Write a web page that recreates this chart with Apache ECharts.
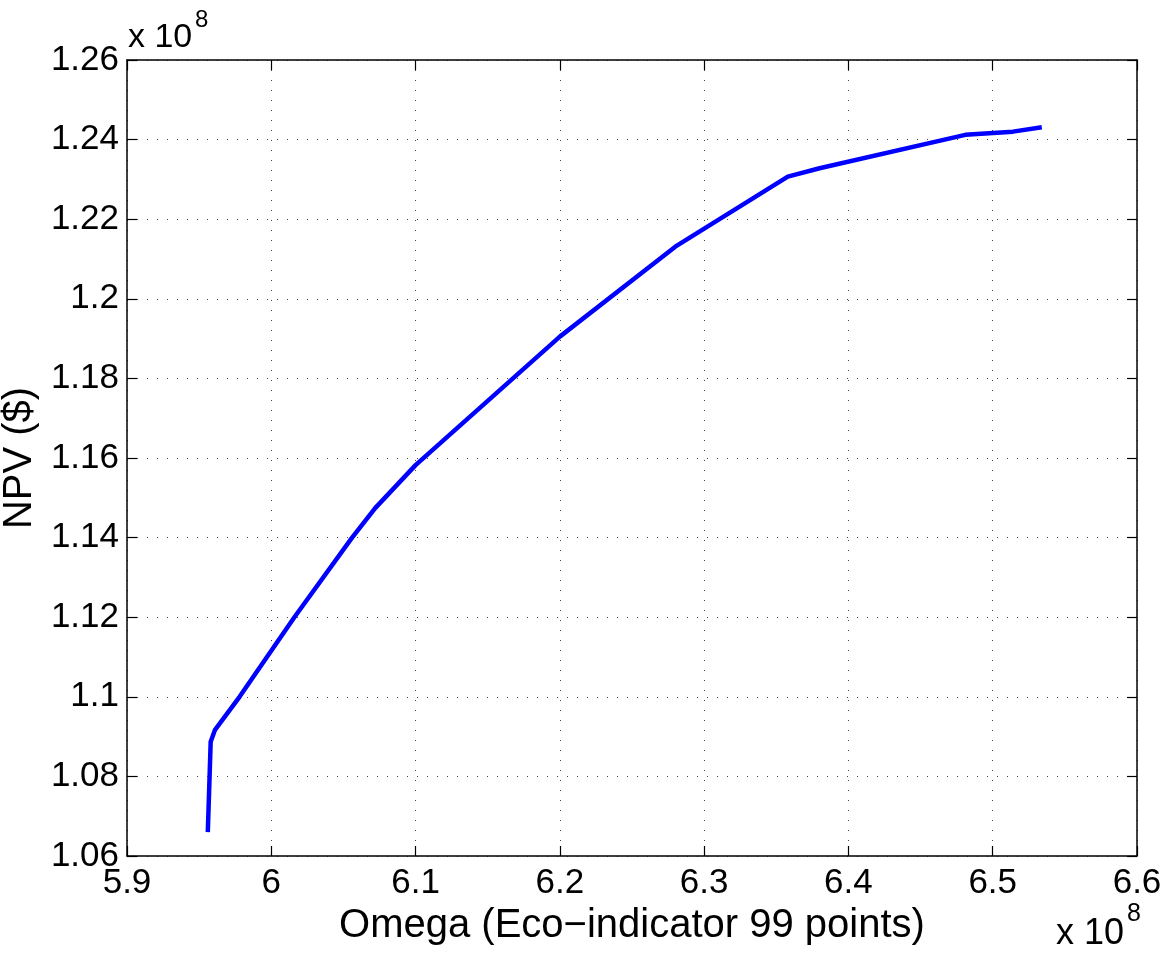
<!DOCTYPE html>
<html>
<head>
<meta charset="utf-8">
<script src="https://cdn.jsdelivr.net/npm/echarts@6/dist/echarts.min.js"></script>
<style>
html,body{margin:0;padding:0;background:#fff;}
#chart{width:1174px;height:960px;}
</style>
</head>
<body>
<div id="chart"></div>
<script>
// Omega (x 1e8) and NPV (x 1e8)
const omega = [5.956, 5.958, 5.961, 5.978, 6.016, 6.056, 6.072, 6.100, 6.200, 6.280, 6.358, 6.380, 6.481, 6.514, 6.534];
const npv   = [1.0660, 1.0887, 1.0917, 1.1000, 1.1200, 1.1400, 1.1474, 1.1582, 1.1905, 1.2131, 1.2307, 1.2328, 1.2412, 1.2420, 1.2431];
const xTicks = {min: 5.9, max: 6.6, interval: 0.1};
const yTicks = {min: 1.06, max: 1.26, interval: 0.02};

const FONT = '"Liberation Sans", Arial, Helvetica, sans-serif';
const fmt = v => String(+(+v).toFixed(2));
const chart = echarts.init(document.getElementById('chart'));
const gridStyle = {show: true, lineStyle: {color: '#444', width: 1, type: [1, 9]}};
const axisLine = {show: true, onZero: false, lineStyle: {color: '#000', width: 1.5}};
const tick = {show: true, inside: true, length: 10, lineStyle: {color: '#000', width: 1.2}};

chart.setOption({
  animation: false,
  backgroundColor: '#fff',
  grid: {left: 127, top: 60, width: 1010, height: 796, containLabel: false, outerBoundsMode: 'none'},
  xAxis: [{
    type: 'value', min: xTicks.min, max: xTicks.max, interval: xTicks.interval,
    axisLine, axisTick: tick, splitLine: gridStyle,
    axisLabel: {formatter: fmt, color: '#000', fontFamily: FONT, fontSize: 35, margin: 10},
    name: 'Omega (Eco\u2212indicator 99 points)', nameLocation: 'middle', nameGap: 45,
    nameTextStyle: {color: '#000', fontFamily: FONT, fontSize: 40}
  }, {
    type: 'value', position: 'top', min: xTicks.min, max: xTicks.max, interval: xTicks.interval,
    axisLine, axisTick: tick, splitLine: {show: false}, axisLabel: {show: false}
  }],
  yAxis: [{
    type: 'value', min: yTicks.min, max: yTicks.max, interval: yTicks.interval,
    axisLine, axisTick: tick, splitLine: gridStyle,
    axisLabel: {formatter: fmt, color: '#000', fontFamily: FONT, fontSize: 35, margin: 8},
    name: 'NPV ($)', nameLocation: 'middle', nameGap: 77,
    nameTextStyle: {color: '#000', fontFamily: FONT, fontSize: 40}
  }, {
    type: 'value', position: 'right', min: yTicks.min, max: yTicks.max, interval: yTicks.interval,
    axisLine, axisTick: tick, splitLine: {show: false}, axisLabel: {show: false}
  }],
  graphic: [
    {type: 'text', left: 128, top: 21, style: {text: 'x 10', font: '34px ' + FONT, fill: '#000'}},
    {type: 'text', left: 195, top: 8, style: {text: '8', font: '24px ' + FONT, fill: '#000'}},
    {type: 'text', left: 1056, top: 916, style: {text: 'x 10', font: '36px ' + FONT, fill: '#000'}},
    {type: 'text', left: 1127, top: 902, style: {text: '8', font: '25px ' + FONT, fill: '#000'}}
  ],
  series: [{
    type: 'line', xAxisIndex: 0, yAxisIndex: 0,
    data: omega.map((x, i) => [x, npv[i]]),
    showSymbol: false, symbol: 'none',
    lineStyle: {color: '#0000ff', width: 4.5, join: 'round'},
    emphasis: {disabled: true}
  }]
});
</script>
</body>
</html>
